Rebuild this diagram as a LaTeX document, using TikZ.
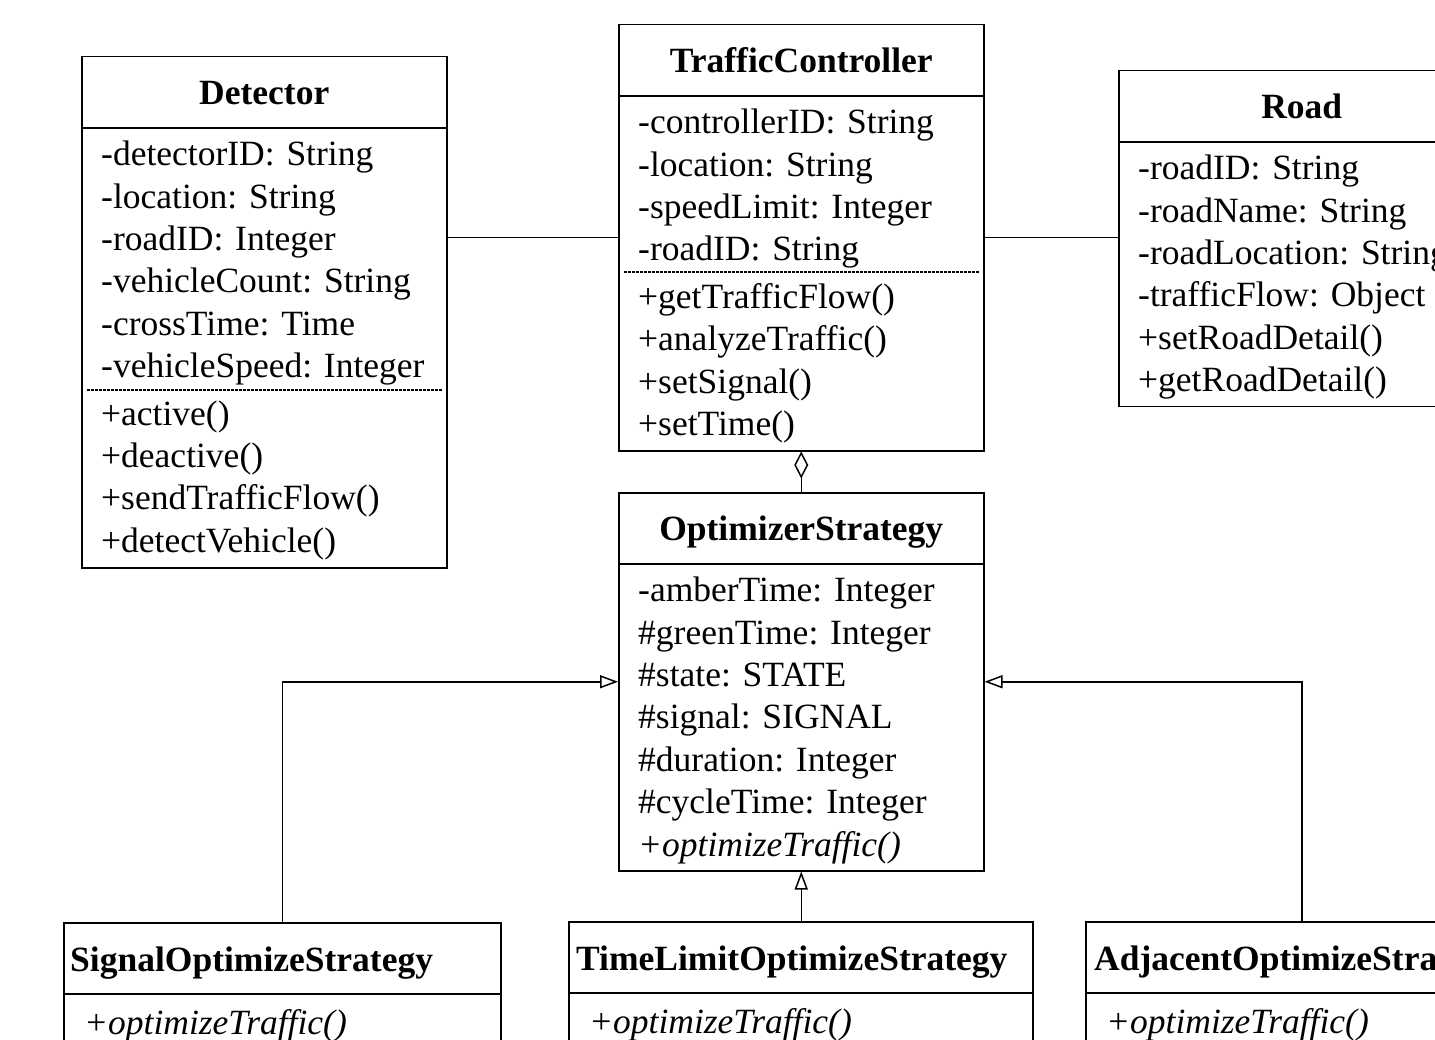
\documentclass[tikz,border=0pt]{standalone}
\usepackage{fontspec}
\setmainfont{Liberation Serif}
\usetikzlibrary{arrows.meta,positioning}
\frenchspacing

\begin{document}
\begin{tikzpicture}[x=1pt,y=1pt,
	every node/.style={font=\fontsize{35.5}{42.4}\selectfont},
	classbox/.style={draw, line width=1.5pt, anchor=north west, inner sep=0pt},
	classname/.style={anchor=base, inner sep=0pt, font=\fontsize{35.5}{42.4}\selectfont\bfseries},
	members/.style={anchor=north west, align=left, text width=420pt, inner xsep=20pt, inner ysep=0pt, text height=37.5pt},
	sepline/.style={line width=1.5pt},
	dotsep/.style={line width=1.1pt, dash pattern=on 2.5pt off 1.5pt},
	link/.style={line width=1.5pt},
	inherit/.style={link, -{Triangle[open, length=18pt, width=13pt]}},
	aggr/.style={link, {Diamond[open, length=27pt, width=14pt]}-}]
	\useasboundingbox (0,0) rectangle (1435,-1040);
	\clip (0,0) rectangle (1435,-1040);
	% Detector
	\node[classbox, minimum width=365pt, minimum height=511pt] (det) at (81,-56) {};
	\draw[sepline] ([yshift=-72]det.north west) -- ([yshift=-72]det.north east);
	\node[classname] at ([yshift=-48.5]det.north) {Detector};
	\node[members] (det-mem) at ([yshift=-72]det.north west) {-detectorID: String\\-location: String\\-roadID: Integer\\-vehicleCount: String\\-crossTime: Time\\-vehicleSpeed: Integer\\[5pt]
		+active()\\+deactive()\\+sendTrafficFlow()\\+detectVehicle()};
	\draw[dotsep] ([shift={(6,-334)}]det.north west) -- ([shift={(-6,-334)}]det.north east);
	% TrafficController
	\node[classbox, minimum width=365pt, minimum height=426pt] (tc) at (618,-24) {};
	\draw[sepline] ([yshift=-72]tc.north west) -- ([yshift=-72]tc.north east);
	\node[classname] at ([yshift=-48.5]tc.north) {TrafficController};
	\node[members] (tc-mem) at ([yshift=-72]tc.north west) {-controllerID: String\\-location: String\\-speedLimit: Integer\\-roadID: String\\[5pt]
		+getTrafficFlow()\\+analyzeTraffic()\\+setSignal()\\+setTime()};
	\draw[dotsep] ([shift={(6,-248)}]tc.north west) -- ([shift={(-6,-248)}]tc.north east);
	% Road
	\node[classbox, minimum width=366pt, minimum height=336pt] (road) at (1118,-70) {};
	\draw[sepline] ([yshift=-72]road.north west) -- ([yshift=-72]road.north east);
	\node[classname] at ([yshift=-48.5]road.north) {Road};
	\node[members] (road-mem) at ([yshift=-72]road.north west) {-roadID: String\\-roadName: String\\-roadLocation: String\\-trafficFlow: Object\\+setRoadDetail()\\+getRoadDetail()};
	% OptimizerStrategy
	\node[classbox, minimum width=365pt, minimum height=378pt] (opt) at (618,-492) {};
	\draw[sepline] ([yshift=-72]opt.north west) -- ([yshift=-72]opt.north east);
	\node[classname] at ([yshift=-48.5]opt.north) {OptimizerStrategy};
	\node[members] (opt-mem) at ([yshift=-72]opt.north west) {-amberTime: Integer\\\#greenTime: Integer\\\#state: STATE\\\#signal: SIGNAL\\\#duration: Integer\\\#cycleTime: Integer\\\textit{+optimizeTraffic()}};
	% concrete strategies
	\node[classbox, minimum width=437pt, minimum height=200pt] (sig) at (63,-922) {};
	\draw[sepline] ([yshift=-72]sig.north west) -- ([yshift=-72]sig.north east);
	\node[classname, anchor=base west] at ([shift={(7,-49)}]sig.north west) {SignalOptimizeStrategy};
	\node[members] (sig-mem) at ([shift={(1,-75)}]sig.north west) {\textit{+optimizeTraffic()}};
	\node[classbox, minimum width=464pt, minimum height=200pt] (tl) at (568,-921) {};
	\draw[sepline] ([yshift=-72]tl.north west) -- ([yshift=-72]tl.north east);
	\node[classname, anchor=base west] at ([shift={(8,-49)}]tl.north west) {TimeLimitOptimizeStrategy};
	\node[members] (tl-mem) at ([shift={(1,-75)}]tl.north west) {\textit{+optimizeTraffic()}};
	\node[classbox, minimum width=432pt, minimum height=200pt] (adj) at (1085,-921) {};
	\draw[sepline] ([yshift=-72]adj.north west) -- ([yshift=-72]adj.north east);
	\node[classname, anchor=base west] at ([shift={(9,-49)}]adj.north west) {AdjacentOptimizeStrategy};
	\node[members] (adj-mem) at ([shift={(1,-75)}]adj.north west) {\textit{+optimizeTraffic()}};
	% relations
	\draw[link] (tc.west -| det.east) -- (tc.west);
	\draw[link] (tc.east) -- (tc.east -| road.west);
	\draw[aggr] (tc.south) -- (opt.north);
	\draw[inherit] (sig.north) |- (opt.west);
	\draw[inherit] (opt.south |- tl.north) -- (opt.south);
	\draw[inherit] (adj.north) |- (opt.east);
\end{tikzpicture}
\end{document}
